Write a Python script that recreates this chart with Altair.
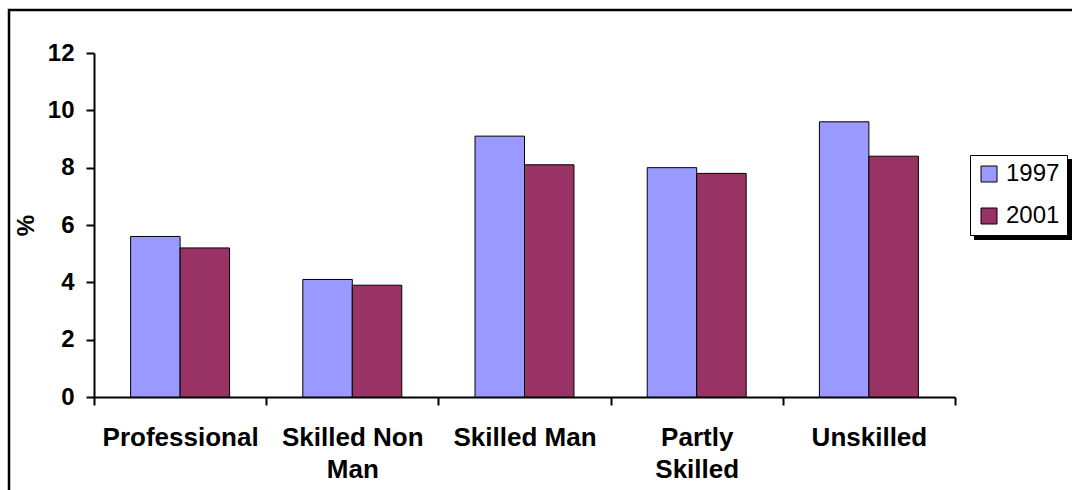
import altair as alt
import pandas as pd

# Share of each social class, by survey year (%)
classes = ["Professional", "Skilled Non Man", "Skilled Man", "Partly Skilled", "Unskilled"]
values_1997 = [5.6, 4.1, 9.1, 8.0, 9.6]
values_2001 = [5.2, 3.9, 8.1, 7.8, 8.4]
years = ["1997", "2001"]
colors = ["#9999FF", "#993366"]
y_ticks = [0, 2, 4, 6, 8, 10, 12]

rows = []
for year, vals in zip(years, [values_1997, values_2001]):
    for c, v in zip(classes, vals):
        rows.append({"Class": c, "Year": year, "Value": v})
df = pd.DataFrame(rows)

FONT = "Liberation Sans"

label_expr = (
    "datum.value == 'Skilled Non Man' ? ['Skilled Non', 'Man'] : "
    "datum.value == 'Partly Skilled' ? ['Partly', 'Skilled'] : datum.value"
)

bars = alt.Chart(df).mark_bar(stroke="black", strokeWidth=1).encode(
    x=alt.X(
        "Class:N",
        sort=classes,
        scale=alt.Scale(paddingInner=0, paddingOuter=0),
        axis=alt.Axis(
            title=None,
            grid=False,
            labelAngle=0,
            labelExpr=label_expr,
            labelFont=FONT,
            labelFontSize=26,
            labelFontWeight="bold",
            labelColor="black",
            labelLineHeight=32,
            labelBaseline="top",
            labelPadding=19,
            tickBand="extent",
            tickSize=8,
            tickWidth=2,
            tickColor="black",
            domainColor="black",
            domainWidth=2,
        ),
    ),
    xOffset=alt.XOffset("Year:N", scale=alt.Scale(paddingInner=0, paddingOuter=0.74)),
    y=alt.Y(
        "Value:Q",
        scale=alt.Scale(domain=[0, 12], nice=False),
        axis=alt.Axis(
            title="%",
            values=y_ticks,
            grid=False,
            labelFont=FONT,
            labelFontSize=24,
            labelFontWeight="bold",
            labelColor="black",
            labelPadding=12,
            tickSize=8,
            tickWidth=2,
            tickColor="black",
            domainColor="black",
            domainWidth=2,
            titleFont=FONT,
            titleFontSize=24,
            titleFontWeight="bold",
            titleColor="black",
            titlePadding=9,
        ),
    ),
    color=alt.Color(
        "Year:N",
        scale=alt.Scale(domain=years, range=colors),
        legend=alt.Legend(
            title=None,
            orient="none",
            legendX=876,
            legendY=102,
            padding=7,
            fillColor="white",
            strokeColor="black",
            symbolType="square",
            symbolSize=256,
            symbolStrokeColor="black",
            symbolStrokeWidth=1,
            symbolOpacity=1,
            labelFont=FONT,
            labelFontSize=24,
            labelColor="black",
            labelOffset=5,
            rowPadding=18,
        ),
    ),
)

one = pd.DataFrame({"k": [0]})

# drop shadow behind the legend box
shadow = alt.Chart(one).mark_rect(color="black").encode(
    x=alt.value(880), x2=alt.value(990), y=alt.value(106), y2=alt.value(187)
)

# chart frame
frame = alt.Chart(one).mark_rect(fill="transparent", stroke="black", strokeWidth=2.5).encode(
    x=alt.value(-85), x2=alt.value(1010), y=alt.value(-43), y2=alt.value(470)
)

chart = (
    alt.layer(frame, shadow, bars)
    .properties(
        width=861,
        height=344,
        autosize=alt.AutoSizeParams(type="none"),
        padding={"left": 94, "top": 53, "right": 117, "bottom": 93},
    )
    .configure_view(stroke=None, strokeWidth=0)
    .configure(background="white", style={"cell": {"stroke": "transparent", "strokeWidth": 0}})
)

chart.save("out.html", embed_options={"renderer": "svg", "actions": False})
